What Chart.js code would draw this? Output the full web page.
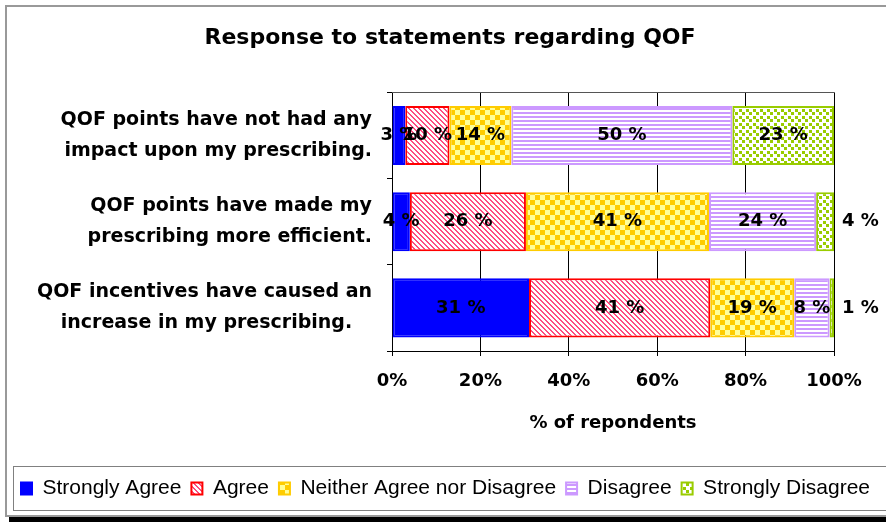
<!DOCTYPE html>
<html>
<head>
<meta charset="utf-8">
<script src="https://cdn.jsdelivr.net/npm/chart.js@4"></script>
<style>
  html, body { margin: 0; padding: 0; background: #fff; overflow: hidden; }
  #wrap { position: absolute; left: 0; top: 0; width: 900px; height: 523px; }
</style>
</head>
<body>
<div id="wrap"><canvas id="qofChart"></canvas></div>
<script>
// statements (two lines each) and % of respondents per answer
const categories = [
  ["QOF points have not had any", "impact upon my prescribing."],
  ["QOF points have made my", "prescribing more efficient."],
  ["QOF incentives have caused an", "increase in my prescribing.   "]
];
const stronglyAgree = [3, 4, 31];
const agree = [10, 26, 41];
const neitherAgree = [14, 41, 19];
const disagree = [50, 24, 8];
const stronglyDisagree = [23, 4, 1];
const xTicks = [0, 20, 40, 60, 80, 100];

// fill patterns for the bars
function makePattern(w, h, paint) {
  const c = document.createElement("canvas");
  c.width = w; c.height = h;
  const g = c.getContext("2d");
  paint(g);
  return g.createPattern(c, "repeat");
}
const ctx = document.getElementById("qofChart").getContext("2d");

const diagPink = makePattern(5, 5, g => {
  g.fillStyle = "#fff"; g.fillRect(0, 0, 5, 5);
  g.fillStyle = "#FF4D80";
  for (let x = 0; x < 5; x++) for (let y = 0; y < 5; y++)
    if (((x - y + 10) % 5) < 2) g.fillRect(x, y, 1, 1);
});
const checkYellow = makePattern(10, 10, g => {
  g.fillStyle = "#FFFF99"; g.fillRect(0, 0, 10, 10);
  g.fillStyle = "#FFCC00"; g.fillRect(0, 0, 5, 5); g.fillRect(5, 5, 5, 5);
});
const linesLilac = makePattern(4, 4, g => {
  g.fillStyle = "#fff"; g.fillRect(0, 0, 4, 4);
  g.fillStyle = "#CC99FF"; g.fillRect(0, 0, 4, 2);
});
const dotsGreen = makePattern(7, 7, g => {
  g.fillStyle = "#fff"; g.fillRect(0, 0, 7, 7);
  g.fillStyle = "#99CC00"; g.fillRect(0, 0, 3, 3); g.fillRect(4, 4, 3, 3);
});

const series = [
  { label: "Strongly Agree", values: stronglyAgree, fill: "#0000FF", line: "#0000FF" },
  { label: "Agree", values: agree, fill: diagPink, line: "#FF0000" },
  { label: "Neither Agree nor Disagree", values: neitherAgree, fill: checkYellow, line: "#FFCC00" },
  { label: "Disagree", values: disagree, fill: linesLilac, line: "#CC99FF" },
  { label: "Strongly Disagree", values: stronglyDisagree, fill: dotsGreen, line: "#99CC00" }
];

// 100% stacked: each row scaled by its own total
const rowTotals = categories.map((_, i) => series.reduce((s, d) => s + d.values[i], 0));

const datasets = series.map(s => ({
  label: s.label,
  source: s.values,
  data: s.values.map((v, i) => v * 100 / rowTotals[i]),
  backgroundColor: s.fill,
  borderColor: s.line,
  borderWidth: 2,
  borderSkipped: false,
  categoryPercentage: 1,
  barPercentage: 0.686
}));

// outer frame, legend box and plot border
const framePlugin = {
  id: "frame",
  beforeDraw(chart) {
    const c = chart.ctx;
    c.save();
    c.fillStyle = "#fff";
    c.fillRect(0, 0, chart.width, chart.height);
    c.strokeStyle = "#999";
    c.lineWidth = 2;
    c.strokeRect(6, 6, chart.width + 20, 510);
    c.fillStyle = "#000";
    c.fillRect(9, 517, chart.width, 5);
    c.strokeStyle = "#808080";
    c.lineWidth = 1;
    c.strokeRect(13.5, 466.5, chart.width + 20, 44);
    c.restore();
  },
  afterDraw(chart) {
    const a = chart.chartArea, c = chart.ctx;
    c.save();
    c.lineWidth = 1;
    c.strokeStyle = "#555";
    c.beginPath();
    c.moveTo(a.left, Math.round(a.top) + 0.5);
    c.lineTo(a.right, Math.round(a.top) + 0.5);
    c.stroke();
    c.restore();
  }
};

// value labels on the segments
const valueLabels = {
  id: "valueLabels",
  afterDatasetsDraw(chart) {
    const c = chart.ctx;
    c.save();
    c.font = "bold 18px 'DejaVu Sans'";
    c.fillStyle = "#000";
    c.textBaseline = "middle";
    chart.getSortedVisibleDatasetMetas().forEach(meta => {
      const ds = chart.data.datasets[meta.index];
      const last = meta.index === chart.data.datasets.length - 1;
      meta.data.forEach((bar, i) => {
        const p = bar.getProps(["x", "y", "base"], true);
        const v = ds.source[i];
        const txt = v + " %";
        if (last && v < 5) {
          c.textAlign = "left";
          c.fillText(txt, p.x + 8, p.y);
        } else {
          c.textAlign = "center";
          c.fillText(txt, (p.x + p.base) / 2, p.y);
        }
      });
    });
    c.restore();
  }
};

Chart.defaults.color = "#000";
Chart.defaults.font.family = "'DejaVu Sans'";

new Chart(ctx, {
  type: "bar",
  data: { labels: categories, datasets: datasets },
  plugins: [framePlugin, valueLabels],
  options: {
    indexAxis: "y",
    responsive: true,
    maintainAspectRatio: false,
    animation: false,
    layout: { padding: { left: 11, right: 11, top: 0, bottom: 14 } },
    plugins: {
      title: {
        display: true,
        text: "Response to statements regarding QOF",
        font: { size: 22, weight: "bold" },
        padding: { top: 25, bottom: 41 }
      },
      legend: {
        position: "bottom",
        align: "start",
        labels: {
          font: { family: "'Liberation Sans'", size: 21 },
          boxWidth: 11,
          boxHeight: 12,
          padding: 10
        }
      },
      tooltip: { enabled: false }
    },
    scales: {
      x: {
        stacked: true,
        min: 0,
        max: 100,
        afterBuildTicks: s => { s.ticks = xTicks.map(v => ({ value: v })); },
        ticks: {
          callback: v => v + "%",
          font: { size: 18, weight: "bold" },
          padding: 15,
          maxRotation: 0
        },
        grid: { color: "#000", tickLength: 5 },
        border: { color: "#000" },
        title: {
          display: true,
          text: "% of repondents",
          font: { size: 18, weight: "bold" },
          padding: { top: 0, bottom: 34 }
        },
        afterFit: s => { s.height = 117; }
      },
      y: {
        stacked: true,
        ticks: {
          crossAlign: "near",
          font: { size: 19, weight: "bold", lineHeight: 1.63 },
          padding: 15
        },
        grid: { drawOnChartArea: false, color: "#000", tickLength: 5 },
        border: { color: "#000" },
        afterFit: s => { s.width = 381; }
      },
      y2: {
        type: "category",
        position: "right",
        grid: { display: false },
        border: { display: false },
        ticks: { display: false },
        afterFit: s => { s.width = 55; }
      }
    }
  }
});
</script>
</body>
</html>
